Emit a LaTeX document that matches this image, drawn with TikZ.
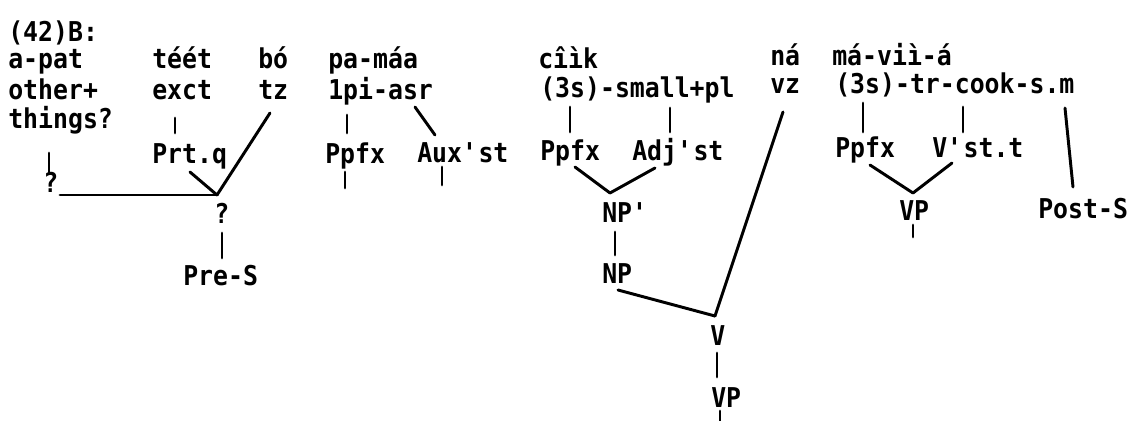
\documentclass[tikz,border=0pt]{standalone}
\usepackage{fontspec}
\newfontfamily\typewr{DejaVu Sans Mono}[FakeStretch=0.91]
\newcommand{\apos}{\textquotesingle}
\begin{document}
\begin{tikzpicture}[
    x=0.025cm, y=-0.025cm,
    wrd/.style={
        anchor=base west, inner sep=0pt,
        font=\typewr\bfseries\fontsize{19.4}{22}\selectfont
    },
    branch/.style={draw=black, line width=2.1pt, line cap=round}
]
\useasboundingbox (0,0) rectangle (1134,421);

%% ── Glossed line ─────────────────────────────────────────────────
\node[wrd] (ex)     at (8,42)   {(42)B:};
\node[wrd] (apat)   at (8,68)   {a-pat};
\node[wrd] (other)  at (8,99)   {other+};
\node[wrd] (things) at (8,128)  {things?};
\node[wrd] (teet)   at (152,68) {téét};
\node[wrd] (exct)   at (152,99) {exct};
\node[wrd] (bo)     at (258,68) {bó};
\node[wrd] (tz)     at (258,99) {tz};
\node[wrd] (pamaa)  at (328,68) {pa-máa};
\node[wrd] (lpiasr) at (328,99) {1pi-asr};
\node[wrd] (ciik)   at (538,68) {cîìk};
\node[wrd] (small)  at (540,97) {(3s)-small+pl};
\node[wrd] (na)     at (770,65) {ná};
\node[wrd] (vz)     at (770,93) {vz};
\node[wrd] (mavii)  at (832,65) {má-viì-á};
\node[wrd] (cook)   at (835,93) {(3s)-tr-cook-s.m};

%% ── Category labels ──────────────────────────────────────────────
\node[wrd] (qa)     at (43,192)  {?};
\node[wrd] (prtq)   at (152,163) {Prt.q};
\node[wrd] (qb)     at (214,223) {?};
\node[wrd] (pres)   at (183,285) {Pre-S};
\node[wrd] (ppfxa)  at (325,163) {Ppfx};
\node[wrd] (auxst)  at (417,162) {Aux\apos st};
\node[wrd] (ppfxb)  at (540,160) {Ppfx};
\node[wrd] (adjst)  at (632,160) {Adj\apos st};
\node[wrd] (npbar)  at (602,222) {NP\apos};
\node[wrd] (np)     at (602,283) {NP};
\node[wrd] (v)      at (710,345) {V};
\node[wrd] (vpa)    at (711,407) {VP};
\node[wrd] (ppfxc)  at (835,157) {Ppfx};
\node[wrd] (vstt)   at (932,157) {V\apos st.t};
\node[wrd] (vpb)    at (899,220) {VP};
\node[wrd] (posts)  at (1038,218) {Post-S};

%% ── Branch end points ────────────────────────────────────────────
\coordinate (jq)  at (217,195);
\coordinate (jnp) at (610,193);
\coordinate (jv)  at (715,316);
\coordinate (jvp) at (913,193);

%% ── Left tree ────────────────────────────────────────────────────
\draw[branch] (49,153) -- (49,173);
\draw[branch] (60,195) -- (jq);
\draw[branch] (190,172) -- (jq);
\draw[branch] (270,113) -- (jq);
\draw[branch] (175,118) -- (175,133);
\draw[branch] (222,233) -- (222,258);

%% ── pa-máa ───────────────────────────────────────────────────────
\draw[branch] (347,115) -- (347,133);
\draw[branch] (345,172) -- (345,188);
\draw[branch] (415,107) -- (435,135);
\draw[branch] (442,167) -- (442,185);

%% ── cîìk / ná ────────────────────────────────────────────────────
\draw[branch] (570,107) -- (570,132);
\draw[branch] (670,108) -- (670,132);
\draw[branch] (575,167) -- (jnp);
\draw[branch] (655,168) -- (jnp);
\draw[branch] (615,232) -- (615,255);
\draw[branch] (618,290) -- (jv);
\draw[branch] (783,112) -- (jv);
\draw[branch] (717,353) -- (717,377);
\draw[branch] (720,411) -- (720,421);

%% ── má-viì-á ─────────────────────────────────────────────────────
\draw[branch] (863,103) -- (863,132);
\draw[branch] (963,107) -- (963,132);
\draw[branch] (1065,108) -- (1073,187);
\draw[branch] (870,165) -- (jvp);
\draw[branch] (952,163) -- (jvp);
\draw[branch] (913,225) -- (913,237);

\end{tikzpicture}
\end{document}
